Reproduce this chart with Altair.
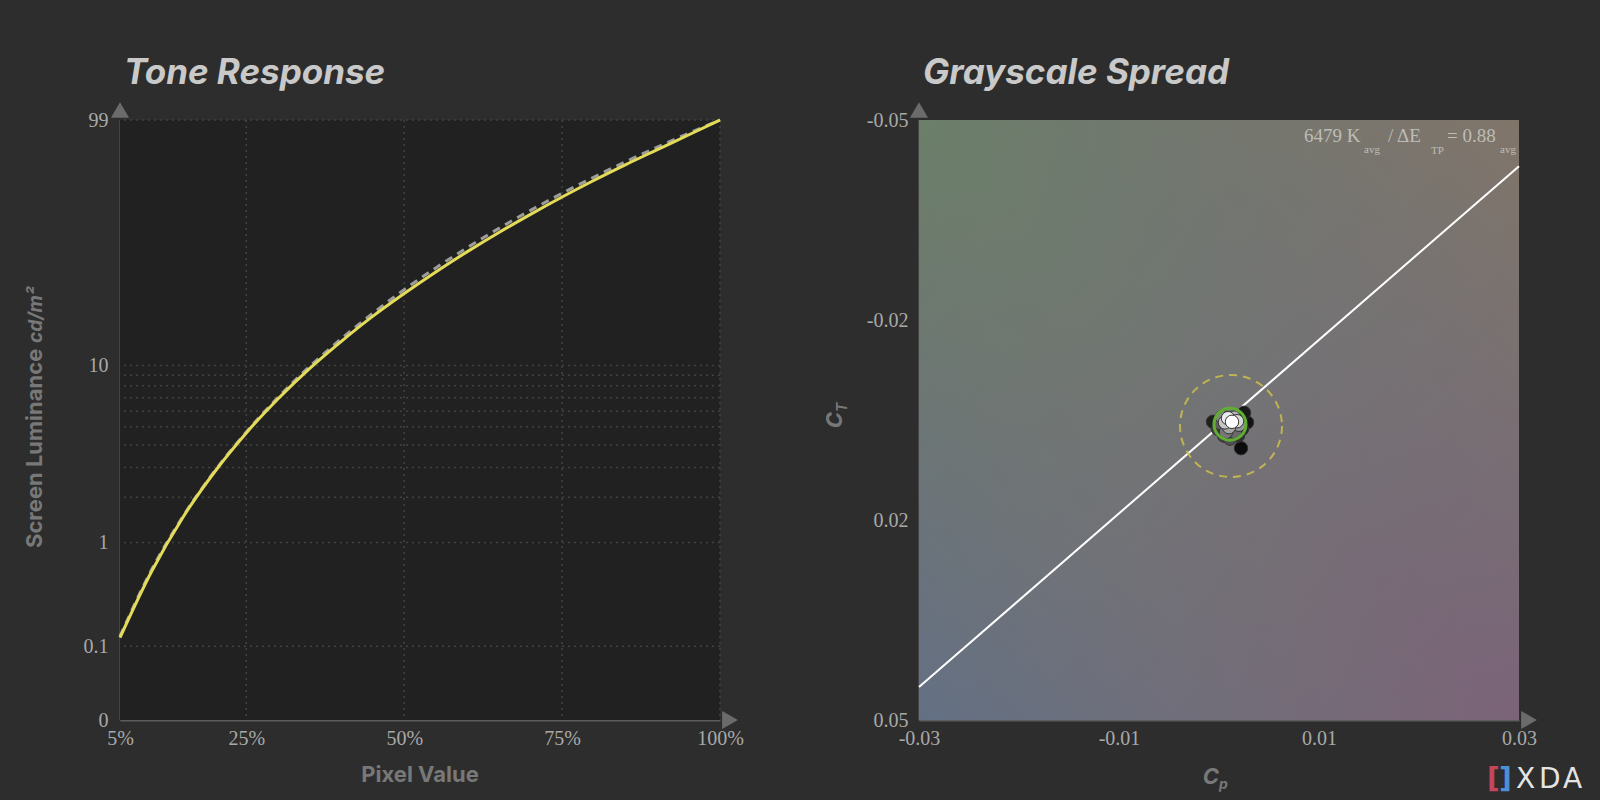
import altair as alt
import pandas as pd

# ---------------- colours / fonts ----------------
BG = "#2d2d2d"
PLOT_BG = "#212121"
AXIS_C = "#5c5c5c"
LABEL_C = "#a9a9a9"
TITLE_C = "#c9c9c9"
AXTITLE_C = "#787878"
GRID_C = "#424242"
SERIF = "Liberation Serif"
SANS = "Inter"

# ---------------- Tone response data ----------------
pixel_pct = [5, 10, 15, 20, 25, 30, 35, 40, 45, 50, 55, 60, 65, 70, 75, 80, 85, 90, 95, 100]
measured_lum = [0.13, 0.60, 1.50, 2.84, 4.64, 6.90, 9.65, 12.85, 16.6, 20.8, 25.6, 31.0, 37.0,
                43.6, 50.9, 58.9, 67.5, 76.8, 87.2, 99.0]
target_lum = [0.136, 0.62, 1.52, 2.87, 4.69, 7.02, 9.87, 13.2, 17.1, 21.6, 26.6, 32.2, 38.4,
              45.2, 52.6, 60.6, 69.2, 78.5, 88.4, 99.0]

y_tick_lum = [0, 0.1, 1, 10, 99]
y_tick_labels = ["0", "0.1", "1", "10", "99"]
y_grid_lum = [0.1, 1, 2, 3, 4, 5, 6, 7, 8, 9, 10, 99]
x_tick_vals = [5, 25, 50, 75, 100]
x_grid_vals = [25, 50, 75, 100]

# ---------------- Grayscale spread data ----------------
gs_level = [5, 10, 15, 20, 25, 30, 35, 40, 45, 50, 55, 60, 65, 70, 75, 80, 85, 90, 95, 100]
gs_cp = [0.0022, 0.0028, 0.0025, -0.0006, 0.0023, 0.0019, -0.0001, 0.0005, 0.0011, 0.0001,
         0.0016, 0.0007, 0.0003, 0.0020, 0.0010, 0.0015, 0.0006, 0.0018, 0.0009, 0.0013]
gs_ct = [0.0047, 0.0004, -0.0012, 0.0003, 0.0015, 0.0026, 0.0015, 0.0026, 0.0031, 0.0005,
         0.0020, 0.0020, -0.0005, 0.0008, 0.0012, -0.0004, 0.0004, 0.0002, -0.0003, 0.0003]
locus_cp = [-0.03, 0.03]
locus_ct = [0.0445, -0.0423]
target_cp = [0.0011]
target_ct = [0.0007]
tol_cp = [0.0012]
tol_ct = [0.0010]
cp_ticks = [-0.03, -0.01, 0.01, 0.03]
ct_ticks = [-0.05, -0.05 + 0.1 / 3, 0.05 - 0.1 / 3, 0.05]


# ---------------- PQ (ST 2084) axis transform ----------------
def pq(L):
    m1, m2 = 0.1593017578125, 78.84375
    c1, c2, c3 = 0.8359375, 18.8515625, 18.6875
    y = (L / 10000.0) ** m1
    return ((c1 + c2 * y) / (1 + c3 * y)) ** m2


PQ0, PQTOP = pq(0), pq(99)


def pqn(L):
    return (pq(L) - PQ0) / (PQTOP - PQ0)


df_meas = pd.DataFrame({"pixel": pixel_pct, "pq": [pqn(v) for v in measured_lum]})
df_targ = pd.DataFrame({"pixel": pixel_pct, "pq": [pqn(v) for v in target_lum]})
df_hgrid = pd.DataFrame({"pq": [pqn(v) for v in y_grid_lum]})
df_vgrid = pd.DataFrame({"pixel": x_grid_vals})

ytv = [pqn(v) for v in y_tick_lum]
expr = f"'{y_tick_labels[-1]}'"
for i in range(len(ytv) - 2, -1, -1):
    mid = (ytv[i] + ytv[i + 1]) / 2
    expr = f"datum.value < {mid:.6f} ? '{y_tick_labels[i]}' : ({expr})"

ONE = alt.Data(values=[{"a": 1}])


def txt(s, x, y, size, color, font=SANS, weight="normal", style="normal",
        align="left", baseline="alphabetic", angle=None):
    kw = dict(text=s, font=font, fontSize=size, color=color, fontWeight=weight,
              fontStyle=style, align=align, baseline=baseline)
    if angle is not None:
        kw["angle"] = angle
    return alt.Chart(ONE).mark_text(**kw).encode(x=alt.value(x), y=alt.value(y))


def box(x1, x2, y1, y2, fill):
    return alt.Chart(ONE).mark_rect(fill=fill).encode(
        x=alt.value(x1), x2=alt.value(x2), y=alt.value(y1), y2=alt.value(y2))


def arrow(shape, x, y):
    return alt.Chart(ONE).mark_point(shape=shape, filled=True, size=330, color="#6b6b6b",
                                     opacity=1).encode(x=alt.value(x), y=alt.value(y))


axis_common = dict(domainColor=AXIS_C, domainWidth=2, ticks=False, grid=False,
                   labelFont=SERIF, labelFontSize=20, labelColor=LABEL_C,
                   labelFlush=False, labelOverlap=False, title=None)

X_L = alt.X("pixel:Q", scale=alt.Scale(domain=[5, 100], nice=False, zero=False),
            axis=alt.Axis(values=x_tick_vals, labelExpr="datum.value + '%'",
                          labelPadding=8, **axis_common))
Y_L = alt.Y("pq:Q", scale=alt.Scale(domain=[0, 1], nice=False, zero=False),
            axis=alt.Axis(values=ytv, labelExpr=expr, labelPadding=12, **axis_common))

left = alt.layer(
    box(-120, -119, -120, -119, BG),
    box(0, 600, 0, 600, PLOT_BG),
    alt.Chart(df_hgrid).mark_rule(color=GRID_C, strokeDash=[2, 4], strokeWidth=1.5).encode(y=Y_L),
    alt.Chart(df_vgrid).mark_rule(color=GRID_C, strokeDash=[2, 4], strokeWidth=1.5).encode(x=X_L),
    alt.Chart(df_targ).mark_line(color="#9c9c9c", strokeDash=[8, 6], strokeWidth=3,
                                 interpolate="monotone").encode(x=X_L, y=Y_L),
    alt.Chart(df_meas).mark_line(color="#e4dc58", strokeWidth=3,
                                 interpolate="monotone").encode(x=X_L, y=Y_L),
    arrow("triangle-up", 0, -10),
    arrow("triangle-right", 610, 600),
    txt("Tone Response", 4, -36, 35, TITLE_C, weight="bold", style="italic"),
    txt("Pixel Value", 300, 655, 22, AXTITLE_C, weight="bold", align="center", baseline="middle"),
    txt("Screen Luminance", -78, 428, 22, AXTITLE_C, weight="bold", angle=270),
    txt("cd/m²", -78, 223, 19, AXTITLE_C, weight="bold", style="italic", angle=270),
).properties(width=600, height=600)

# ---------------- right panel ----------------
df_pts = pd.DataFrame({"cp": gs_cp, "ct": gs_ct, "level": gs_level})
df_locus = pd.DataFrame({"cp": locus_cp, "ct": locus_ct})
df_target = pd.DataFrame({"cp": target_cp, "ct": target_ct})
df_tol = pd.DataFrame({"cp": tol_cp, "ct": tol_ct})

X_R = alt.X("cp:Q", scale=alt.Scale(domain=[-0.03, 0.03], nice=False, zero=False),
            axis=alt.Axis(values=cp_ticks, labelExpr="replace(format(datum.value, '.2f'), '\u2212', '-')",
                          labelPadding=8, **axis_common))
Y_R = alt.Y("ct:Q", scale=alt.Scale(domain=[-0.05, 0.05], nice=False, zero=False, reverse=True),
            axis=alt.Axis(values=ct_ticks, labelExpr="replace(format(datum.value, '.2f'), '\u2212', '-')",
                          labelPadding=11, **axis_common))

grad_a = alt.LinearGradient(
    gradient="linear", x1=0, y1=0, x2=1, y2=1,
    stops=[alt.GradientStop(color="#6b7f69", offset=0),
           alt.GradientStop(color="#737375", offset=0.5),
           alt.GradientStop(color="#7b6378", offset=1)])
grad_b = alt.LinearGradient(
    gradient="linear", x1=1, y1=0, x2=0, y2=1,
    stops=[alt.GradientStop(color="rgba(132,118,102,0.8)", offset=0),
           alt.GradientStop(color="rgba(115,115,117,0)", offset=0.5),
           alt.GradientStop(color="rgba(95,111,136,0.8)", offset=1)])

ANN = "#bdbdb6"
right = alt.layer(
    box(680, 681, 679, 680, BG),
    alt.Chart(ONE).mark_rect(fill=grad_a).encode(x=alt.value(0), x2=alt.value(600),
                                                 y=alt.value(0), y2=alt.value(600)),
    alt.Chart(ONE).mark_rect(fill=grad_b).encode(x=alt.value(0), x2=alt.value(600),
                                                 y=alt.value(0), y2=alt.value(600)),
    alt.Chart(df_locus).mark_line(color="white", strokeWidth=2).encode(x=X_R, y=Y_R),
    alt.Chart(df_tol).mark_point(shape="circle", filled=False, size=10404, color="#cdbf4c",
                                 strokeWidth=2, strokeDash=[8, 6], opacity=0.85).encode(x=X_R, y=Y_R),
    alt.Chart(df_pts).mark_circle(size=180, stroke="#333333", strokeWidth=1, opacity=1).encode(
        x=X_R, y=Y_R,
        fill=alt.Fill("level:Q", scale=alt.Scale(type="pow", exponent=1.4, domain=[5, 100],
                                                 range=["#0c0c0c", "#ffffff"]),
                      legend=None)),
    alt.Chart(df_target).mark_point(shape="circle", filled=False, size=1024, color="#5fae32",
                                    strokeWidth=3, opacity=1).encode(x=X_R, y=Y_R),
    arrow("triangle-up", 0, -10),
    arrow("triangle-right", 610, 600),
    txt("Grayscale Spread", 4, -36, 35, TITLE_C, weight="bold", style="italic"),
    txt("6479 K", 385, 22, 19, ANN, font=SERIF),
    txt("avg", 445, 33, 11, ANN, font=SERIF),
    txt("/ ΔE", 469, 22, 19, ANN, font=SERIF),
    txt("TP", 512, 34, 11, ANN, font=SERIF),
    txt("= 0.88", 528, 22, 19, ANN, font=SERIF),
    txt("avg", 581, 33, 11, ANN, font=SERIF),
    txt("C", 292, 664, 22, AXTITLE_C, weight="bold", style="italic", align="center"),
    txt("p", 300, 669, 14, AXTITLE_C, weight="bold", style="italic"),
    txt("C", -77, 300, 22, AXTITLE_C, weight="bold", style="italic", align="center", angle=270),
    txt("T", -72, 292, 14, AXTITLE_C, weight="bold", style="italic", angle=270),
    txt("[", 568, 668, 28, "#c4465c", font="DejaVu Sans", weight="bold"),
    txt("]", 580, 668, 28, "#4c8fd2", font="DejaVu Sans", weight="bold"),
    txt("X", 597, 668, 28, "#e4e4e4", font="DejaVu Sans"),
    txt("D", 620, 668, 28, "#e4e4e4", font="DejaVu Sans"),
    txt("A", 644, 668, 28, "#e4e4e4", font="DejaVu Sans"),
).properties(width=600, height=600)

chart = alt.hconcat(left, right, spacing=199, bounds="flush", padding=0).configure(
    background=BG).configure_view(stroke=None)

chart.save("out.html", embed_options={"renderer": "svg", "actions": False})
